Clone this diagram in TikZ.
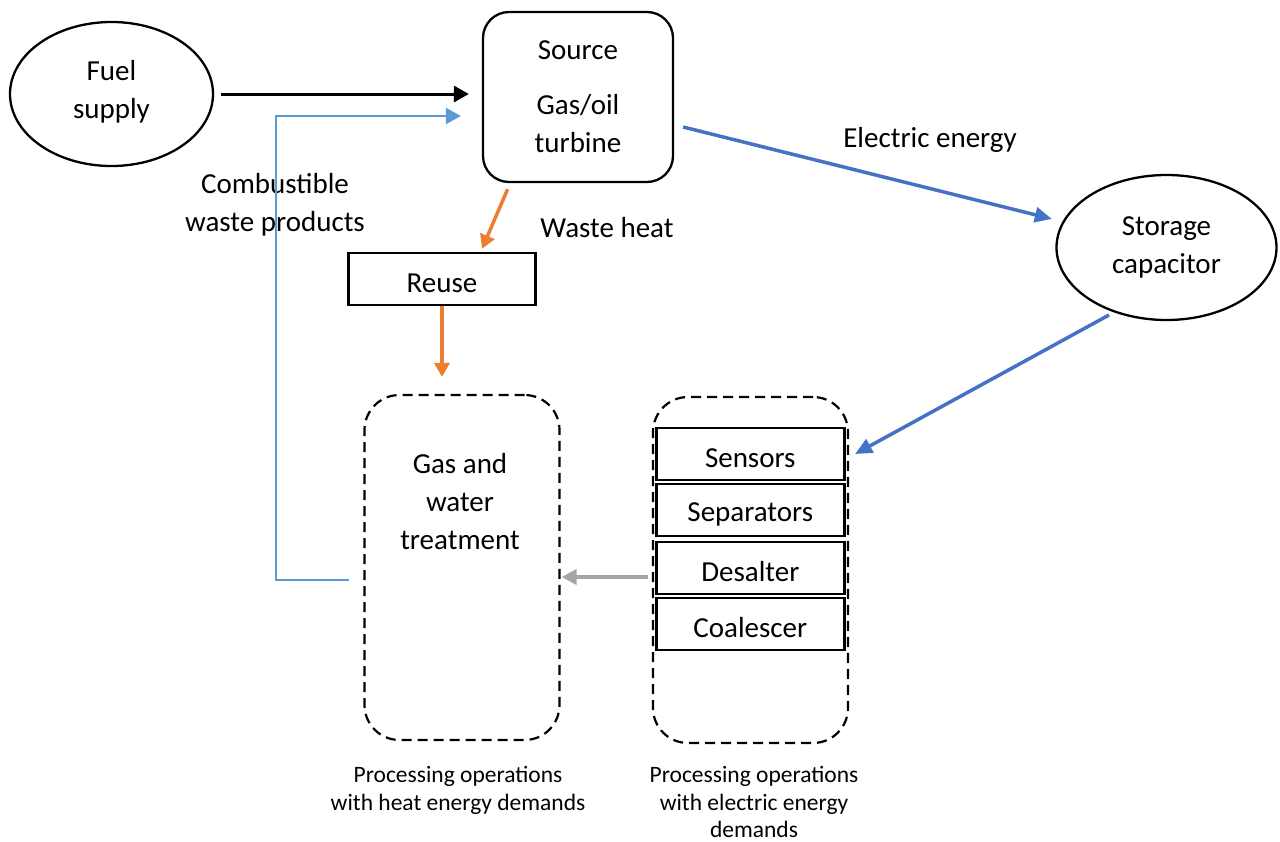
\documentclass[tikz,border=0pt]{standalone}
\usepackage{fontspec}
\setmainfont{Carlito}
\usetikzlibrary{shapes.geometric,arrows.meta,calc}
\definecolor{orangeA}{HTML}{ED7D31}
\definecolor{blueA}{HTML}{4472C4}
\definecolor{blueB}{HTML}{5B9BD5}
\definecolor{grayA}{HTML}{A5A5A5}
\tikzset{
  bigtxt/.style={font=\fontsize{29}{38}\selectfont, align=center, inner sep=0pt},
  smalltxt/.style={font=\fontsize{23.5}{27.5}\selectfont, align=center, inner sep=0pt},
  oval/.style={ellipse, draw, line width=2.3pt, inner sep=0pt},
  solidbox/.style={rectangle, draw, line width=2.3pt, inner sep=0pt},
  itembox/.style={rectangle, draw, line width=2.8pt, inner sep=0pt, minimum width=188pt, minimum height=52pt},
  dashbox/.style={rectangle, draw, dashed, dash pattern=on 10pt off 6pt, line width=2.2pt, rounded corners=35pt, inner sep=0pt},
  tipA/.style={-{Triangle[length=15pt,width=16pt]}},
  tipB/.style={-{Triangle[length=14pt,width=15pt]}}
}
\begin{document}
\begin{tikzpicture}[x=1pt,y=-1pt]
\useasboundingbox (0,0) rectangle (1280,841);
% shapes
\node[oval, minimum width=203pt, minimum height=144pt] (fuel) at (111.5,94) {};
\node[bigtxt] (fueltxt) at (111.5,92) {Fuel\\supply};
\node[solidbox, rounded corners=26pt, minimum width=190pt, minimum height=170pt] (source) at (578,97) {};
\node[bigtxt] (sourcetxt) at (578,50) {Source};
\node[bigtxt] (turbtxt) at (578,123.5) {Gas/oil\\turbine};
\node[oval, minimum width=220pt, minimum height=145pt] (storage) at (1166.5,247.5) {};
\node[bigtxt] (storagetxt) at (1166.5,247) {Storage\\capacitor};
\node[solidbox, minimum width=187pt, minimum height=52pt] (reuse) at (442,279) {};
\node[bigtxt] (reusetxt) at (442,283) {Reuse};
\node[dashbox, minimum width=195pt, minimum height=345pt] (ldash) at (462,567.5) {};
\node[bigtxt] (gastxt) at (460,501.5) {Gas and\\water\\treatment};
\node[dashbox, minimum width=195pt, minimum height=346pt] (rdash) at (750.5,570) {};
\node[itembox] (sensors) at (750.3,454) {};
\node[bigtxt] (sensorstxt) at (750.3,458) {Sensors};
\node[itembox] (separators) at (750.3,510) {};
\node[bigtxt] (separatorstxt) at (750.3,514) {Separators};
\node[itembox] (desalter) at (750.3,568) {};
\node[bigtxt] (desaltertxt) at (750.3,572) {Desalter};
\node[itembox] (coalescer) at (750.3,624) {};
\node[bigtxt] (coalescertxt) at (750.3,628) {Coalescer};
% labels
\node[bigtxt] (combtxt) at (275,204.5) {Combustible\\waste products};
\node[bigtxt] (wastetxt) at (607,228) {Waste heat};
\node[bigtxt] (electxt) at (930,140) {Electric energy};
\node[smalltxt] (heatdem) at (458,790.5) {Processing operations\\with heat energy demands};
\node[smalltxt] (elecdem) at (754,802) {Processing operations\\with electric energy\\demands};
% connectors
\draw[tipA, line width=3pt, shorten <=7pt, shorten >=13pt] (fuel.east) -- (fuel.east -| source.west);
\coordinate (cbStart) at (349,580);
\coordinate (cbCorner) at (276,116);
\coordinate (cbEnd) at ($(source.west |- cbCorner)+(-21,0)$);
\draw[blueB, tipA, line width=2.4pt] (cbStart) -| (cbCorner) -- (cbEnd);
\draw[orangeA, tipB, line width=3.5pt] ($(source.south)+(-70.4,6)$) -- ($(reuse.north)+(40,-3)$);
\draw[orangeA, tipB, line width=3.5pt, shorten >=17pt] (reuse.south) -- (reuse.south |- ldash.north);
\draw[blueA, -{Triangle[length=17pt,width=15pt]}, line width=3.5pt, shorten >=11pt] ($(source.east)+(9,30)$) -- (storage);
\draw[blueA, -{Triangle[length=17pt,width=15pt]}, line width=3.5pt] ($(storage.center)+(-57.5,67.5)$) -- ($(rdash.east |- sensors.center)+(6,0)$);
\draw[grayA, -{Triangle[length=15pt,width=15pt]}, line width=3.5pt] ($(rdash.west)+(-3.5,7)$) -- ($(ldash.east)+(1,9.5)$);
\end{tikzpicture}
\end{document}
